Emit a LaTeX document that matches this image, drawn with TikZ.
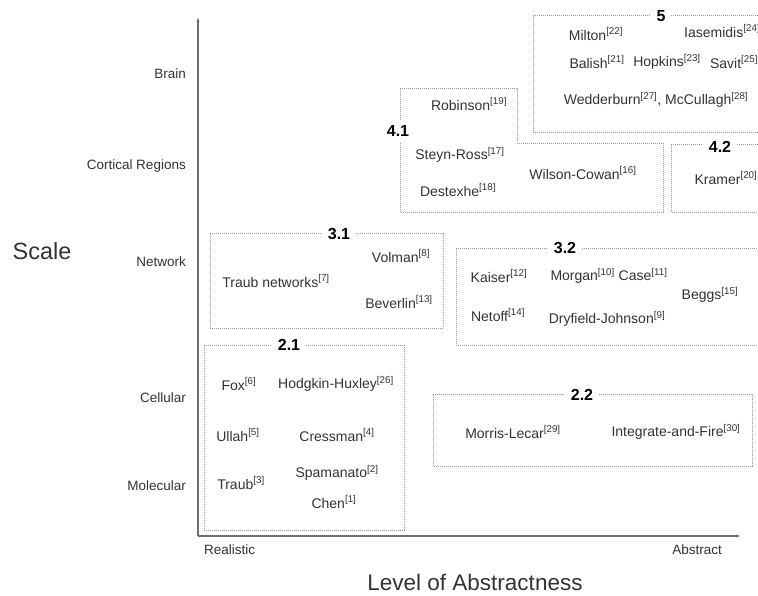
\documentclass[tikz,border=0pt]{standalone}
\usepackage{fontspec}
\setmainfont{Liberation Sans}
\usetikzlibrary{arrows.meta}
\definecolor{txt}{HTML}{333333}
\definecolor{boxc}{HTML}{9A9A9A}
\definecolor{axc}{HTML}{6E6E6E}
\newcommand{\rf}[1]{\textsuperscript{[#1]}}
\begin{document}
\begin{tikzpicture}[x=1pt,y=-1pt,
  lbl/.style={text=txt,font=\fontsize{14}{16}\selectfont,inner sep=0pt},
  axl/.style={text=txt,font=\fontsize{13.5}{16}\selectfont,inner sep=0pt},
  big/.style={text=txt,font=\fontsize{23.5}{28}\selectfont,inner sep=0pt},
  grp/.style={text=black,font=\fontsize{16}{18}\selectfont\bfseries,fill=white,inner xsep=6pt,inner ysep=1pt},
  region/.style={draw=boxc,line width=0.9pt,dash pattern=on 1pt off 1pt},
  axis/.style={draw=axc,line width=1.4pt,-{Stealth[length=4pt,width=3pt]}}]
\fill[white] (0,0) rectangle (758,595);
\useasboundingbox (0,0) rectangle (758,595);
\clip (0,0) rectangle (758,595);

% axes
\coordinate (o) at (198,536);
\coordinate (ytop) at (198,18);
\coordinate (xend) at (740,536);
\draw[axis] (o) -- (ytop);
\draw[axis] (o) -- (xend);

% axis labels
\node[axl,anchor=east] (brain) at (186,74) {Brain};
\node[axl,anchor=east] (cort) at (186,166) {Cortical Regions};
\node[axl,anchor=east] (netw) at (186,262) {Network};
\node[axl,anchor=east] (cell) at (186,398) {Cellular};
\node[axl,anchor=east] (mole) at (186,486) {Molecular};
\node[big] (scale) at (42,251) {Scale};
\node[axl,anchor=west] (real) at (204,550) {Realistic};
\node[axl,anchor=east] (abst) at (722,550) {Abstract};
\node[font=\fontsize{22.5}{26}\selectfont,text=txt,inner sep=0pt] (level) at (475,582) {Level of Abstractness};

% region 5
\draw[region] (533,15) -- (770,15) -- (770,132) -- (533,132) -- cycle;
\node[grp] (g5) at (661,16) {5};
\node[lbl] (milton) at (596,34) {Milton\rf{22}};
\node[lbl,anchor=west] (iase) at (684,31) {Iasemidis\rf{24}};
\node[lbl] (balish) at (597,62) {Balish\rf{21}};
\node[lbl] (hopkins) at (667,62) {Hopkins\rf{23}};
\node[lbl] (savit) at (734,62) {Savit\rf{25}};
\node[lbl] (wedd) at (656,100) {Wedderburn\rf{27}, McCullagh\rf{28}};

% region 4.1
\draw[region] (400,88) -- (517,88) -- (517,143) -- (663,143) -- (663,212) -- (400,212) -- cycle;
\node[grp,inner xsep=1pt,inner ysep=5pt] (g41) at (398,131) {4.1};
\node[lbl] (robinson) at (469,104) {Robinson\rf{19}};
\node[lbl] (steyn) at (460,155) {Steyn-Ross\rf{17}};
\node[lbl] (wilson) at (583,173) {Wilson-Cowan\rf{16}};
\node[lbl] (destexhe) at (458,190) {Destexhe\rf{18}};

% region 4.2
\draw[region] (671,144) -- (770,144) -- (770,212) -- (671,212) -- cycle;
\node[grp] (g42) at (720,147) {4.2};
\node[lbl] (kramer) at (726,178) {Kramer\rf{20}};

% region 3.1
\draw[region] (210,233) -- (443,233) -- (443,328) -- (210,328) -- cycle;
\node[grp] (g31) at (339,234) {3.1};
\node[lbl] (volman) at (401,256) {Volman\rf{8}};
\node[lbl] (traubn) at (276,281) {Traub networks\rf{7}};
\node[lbl] (beverlin) at (399,302) {Beverlin\rf{13}};

% region 3.2
\draw[region] (456,248) -- (770,248) -- (770,345) -- (456,345) -- cycle;
\node[grp] (g32) at (565,248) {3.2};
\node[lbl] (kaiser) at (499,276) {Kaiser\rf{12}};
\node[lbl] (morgan) at (609,276) {Morgan\rf{10} Case\rf{11}};
\node[lbl] (beggs) at (710,295) {Beggs\rf{15}};
\node[lbl] (netoff) at (498,315) {Netoff\rf{14}};
\node[lbl] (dryfield) at (607,319) {Dryfield-Johnson\rf{9}};

% region 2.1
\draw[region] (204,345) -- (404,345) -- (404,530) -- (204,530) -- cycle;
\node[grp] (g21) at (289,345) {2.1};
\node[lbl] (fox) at (239,384) {Fox\rf{6}};
\node[lbl] (hh) at (336,384) {Hodgkin-Huxley\rf{26}};
\node[lbl] (ullah) at (238,435) {Ullah\rf{5}};
\node[lbl] (cressman) at (337,435) {Cressman\rf{4}};
\node[lbl] (spam) at (337,473) {Spamanato\rf{2}};
\node[lbl] (traub) at (241,483) {Traub\rf{3}};
\node[lbl] (chen) at (334,502) {Chen\rf{1}};

% region 2.2
\draw[region] (433,394) -- (752,394) -- (752,466) -- (433,466) -- cycle;
\node[grp] (g22) at (582,395) {2.2};
\node[lbl] (morris) at (513,432) {Morris-Lecar\rf{29}};
\node[lbl] (iaf) at (676,432) {Integrate-and-Fire\rf{30}};
\end{tikzpicture}
\end{document}
